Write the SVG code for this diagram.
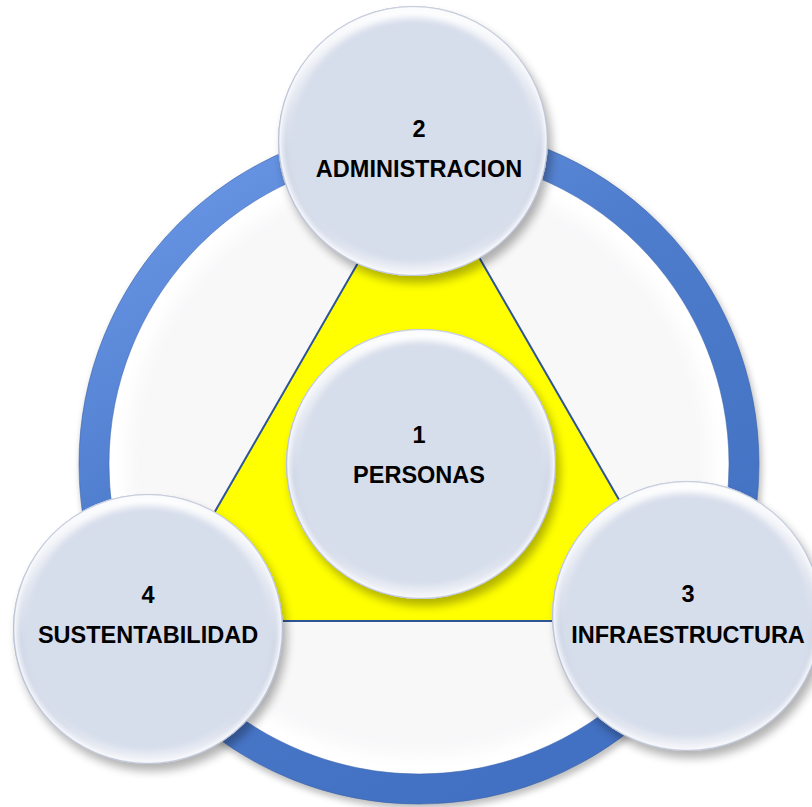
<svg xmlns="http://www.w3.org/2000/svg" xmlns:xlink="http://www.w3.org/1999/xlink" width="812" height="807" viewBox="0 0 812 807">
  <style>
    .num, .lbl { font-family: "Liberation Sans", Arial, sans-serif; font-weight: bold; font-size: 23.5px; fill: #000; text-anchor: middle; }
  </style>
  <defs>
    <filter id="shadow" x="-30%" y="-30%" width="160%" height="160%">
      <feGaussianBlur stdDeviation="5"/>
    </filter>
    <filter id="soft" x="-20%" y="-20%" width="140%" height="140%">
      <feGaussianBlur stdDeviation="3"/>
    </filter>
    <filter id="softBig" x="-20%" y="-20%" width="140%" height="140%">
      <feGaussianBlur stdDeviation="8"/>
    </filter>
    <linearGradient id="ringGrad" x1="0" y1="0" x2="0.6" y2="1">
      <stop offset="0" stop-color="#6E9BEA"/>
      <stop offset="0.45" stop-color="#4F7DCD"/>
      <stop offset="1" stop-color="#4270C2"/>
    </linearGradient>
    <radialGradient id="rim" cx="0.5" cy="0.5" r="0.5">
      <stop offset="0" stop-color="#D6DDEB" stop-opacity="0"/>
      <stop offset="0.88" stop-color="#D6DDEB" stop-opacity="0"/>
      <stop offset="0.94" stop-color="#CDD4E4" stop-opacity="0.5"/>
      <stop offset="0.985" stop-color="#F2F4FA" stop-opacity="1"/>
      <stop offset="1" stop-color="#BCC5D8" stop-opacity="1"/>
    </radialGradient>
    <linearGradient id="topLight" x1="0" y1="0" x2="0" y2="1">
      <stop offset="0" stop-color="#FFFFFF" stop-opacity="1"/>
      <stop offset="0.3" stop-color="#FFFFFF" stop-opacity="0.5"/>
      <stop offset="0.55" stop-color="#FFFFFF" stop-opacity="0"/>
      <stop offset="0.85" stop-color="#FFFFFF" stop-opacity="0.15"/>
      <stop offset="1" stop-color="#FFFFFF" stop-opacity="0.6"/>
    </linearGradient>
    <clipPath id="clipB">
      <circle r="135"/>
    </clipPath>
    <g id="bubble">
      <circle r="135" cx="4" cy="7" fill="#000" opacity="0.3" filter="url(#shadow)"/>
      <circle r="135" fill="#D6DDEB"/>
      <circle r="135" fill="url(#rim)"/>
      <circle r="129" fill="none" stroke="url(#topLight)" stroke-width="12" filter="url(#soft)" clip-path="url(#clipB)"/>
      <circle r="134.5" fill="none" stroke="#A4AEC4" stroke-width="1" opacity="0.5"/>
    </g>
  </defs>

  <rect width="812" height="807" fill="#FFFFFF"/>

  <g id="ring">
    <circle cx="421" cy="468" r="326" fill="none" stroke="#000" stroke-opacity="0.25" stroke-width="30" filter="url(#soft)"/>
    <circle cx="419" cy="464" r="311" fill="#FFFFFF"/>
    <circle cx="419" cy="464" r="292" fill="#F8F8F9" filter="url(#softBig)"/>
    <circle cx="419" cy="464" r="325" fill="none" stroke="url(#ringGrad)" stroke-width="30"/>
    <circle cx="419" cy="464" r="340" fill="none" stroke="#3A62AA" stroke-width="1" opacity="0.6"/>
    <circle cx="419" cy="464" r="310" fill="none" stroke="#3A62AA" stroke-width="1" opacity="0.5"/>
  </g>

  <g id="connectors">
    <polygon points="420,155 152,621 689,621" fill="#FFFF00" stroke="#2F5597" stroke-width="2" stroke-linejoin="miter"/>
  </g>

  <g id="node-1" transform="translate(421,464)">
    <use xlink:href="#bubble"/>
    <text class="num" x="-2" y="-21">1</text>
    <text class="lbl" x="-2" y="19">PERSONAS</text>
  </g>

  <g id="node-2" transform="translate(413,141)">
    <use xlink:href="#bubble"/>
    <text class="num" x="6" y="-4">2</text>
    <text class="lbl" x="6" y="36">ADMINISTRACION</text>
  </g>

  <g id="node-4" transform="translate(148,629)">
    <use xlink:href="#bubble"/>
    <text class="num" x="0" y="-26">4</text>
    <text class="lbl" x="0" y="14">SUSTENTABILIDAD</text>
  </g>

  <g id="node-3" transform="translate(687,616)">
    <use xlink:href="#bubble"/>
    <text class="num" x="1" y="-14">3</text>
    <text class="lbl" x="1" y="27">INFRAESTRUCTURA</text>
  </g>
</svg>
